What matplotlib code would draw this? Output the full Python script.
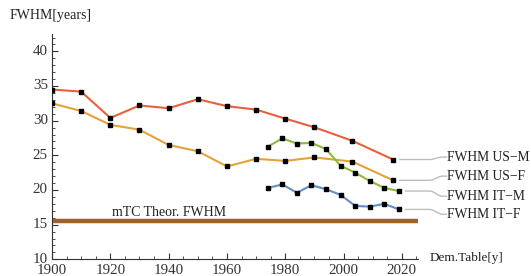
import numpy as np
import matplotlib.pyplot as plt
import matplotlib.transforms as mtransforms
from matplotlib.ticker import MultipleLocator

plt.rcParams['font.family'] = ['Liberation Serif', 'DejaVu Serif']

# data
anni_us = [1900, 1910, 1920, 1930, 1940, 1950, 1960, 1970, 1980, 1990, 2003, 2017]
fwhm_us_m = [34.5, 34.2, 30.4, 32.2, 31.8, 33.1, 32.1, 31.6, 30.3, 29.05, 27.1, 24.4]
fwhm_us_f = [32.5, 31.4, 29.4, 28.7, 26.5, 25.6, 23.4, 24.5, 24.2, 24.7, 24.1, 21.4]

anni_it = [1974, 1979, 1984, 1989, 1994, 1999, 2004, 2009, 2014, 2019]
fwhm_it_m = [26.25, 27.45, 26.7, 26.8, 25.9, 23.5, 22.5, 21.3, 20.3, 19.85]
fwhm_it_f = [20.3, 20.8, 19.6, 20.7, 20.1, 19.3, 17.7, 17.6, 18.0, 17.2]

fwhm_teorico = 15.5

etichette = ['FWHM US\u2212M', 'FWHM US\u2212F', 'FWHM IT\u2212M', 'FWHM IT\u2212F']
etichette_y = [24.75, 22.0, 19.1, 16.5]
colori = ['#e8603c', '#e6a23a', '#8fb83c', '#5e8fc9']

fig = plt.figure(figsize=(5.31, 2.76), dpi=100)
ax = fig.add_axes([0.098, 0.0605, 0.689, 0.816])

serie = [(anni_us, fwhm_us_m), (anni_us, fwhm_us_f), (anni_it, fwhm_it_m), (anni_it, fwhm_it_f)]
for (xs, ys), c in zip(serie, colori):
	ax.plot(xs, ys, '-', color=c, lw=1.5, zorder=2)
	ax.plot(xs, ys, 's', color='black', ms=3.0, zorder=3)

ax.axhline(fwhm_teorico, color='#a0622d', lw=3.2, zorder=1)
ax.text(1940, fwhm_teorico + 0.25, 'mTC Theor. FWHM', ha='center', va='bottom', fontsize=10, color='#222222')

# callout connectors
for (xs, ys), lab, ly in zip(serie, etichette, etichette_y):
	x0 = xs[-1] + 2.3
	t = np.linspace(0, 1, 40)
	s = t * t * (3 - 2 * t)
	cx = np.concatenate([[x0], 2029.5 + 4.5 * t, [2035.3]])
	cy = np.concatenate([[ys[-1]], ys[-1] + (ly - ys[-1]) * s, [ly]])
	ax.plot(cx, cy, color='#bdbdbd', lw=1.0, clip_on=False)
	ax.text(2035.5, ly, lab, ha='left', va='center', fontsize=9.8, color='#222222', clip_on=False)

ax.set_xlim(1900, 2025.5)
ax.set_ylim(10, 42.5)
ax.xaxis.set_major_locator(MultipleLocator(20))
ax.xaxis.set_minor_locator(MultipleLocator(5))
ax.yaxis.set_major_locator(MultipleLocator(5))
ax.yaxis.set_minor_locator(MultipleLocator(1))
ax.tick_params(which='both', direction='in', colors='#333333', labelsize=10.8, labelcolor='#333333')
ax.tick_params(which='major', length=4, width=0.8)
ax.tick_params(which='minor', length=2, width=0.6)
ax.tick_params(axis='x', pad=3.2)
ax.tick_params(axis='y', pad=3)
for lato in ['top', 'right']:
	ax.spines[lato].set_visible(False)
for lato in ['left', 'bottom']:
	ax.spines[lato].set_color('#333333')
	ax.spines[lato].set_linewidth(0.8)

# alza un po' le etichette y per non toccare "1900"
sposta = mtransforms.ScaledTranslation(0, 1.2 / 72, fig.dpi_scale_trans)
for lab in ax.get_yticklabels():
	lab.set_transform(lab.get_transform() + sposta)

fig.text(10 / 531, 1 - 15 / 276, 'FWHM[years]', ha='left', va='center', fontsize=10, color='#222222')
fig.text(430 / 531, 1 - 258 / 276, 'Dem.Table[y]', ha='left', va='center', fontsize=9.5, color='#222222')

plt.savefig('out.png')
